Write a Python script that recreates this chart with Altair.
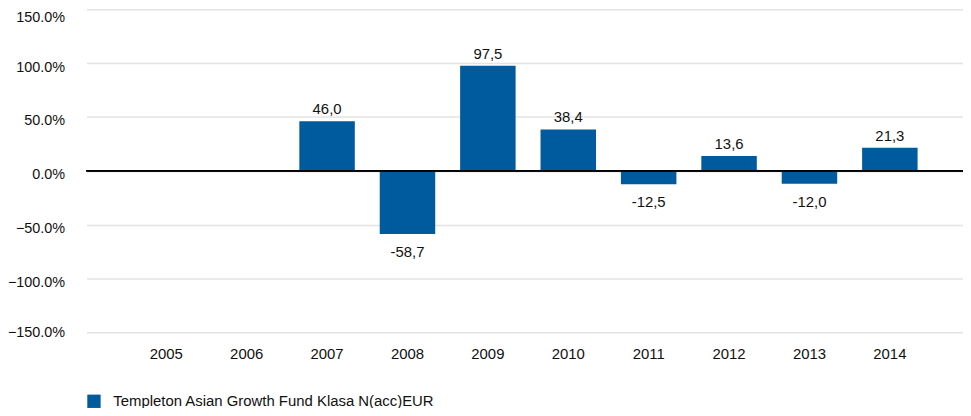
import altair as alt
import pandas as pd

years = ["2005", "2006", "2007", "2008", "2009", "2010", "2011", "2012", "2013", "2014"]
values = [None, None, 46.0, -58.7, 97.5, 38.4, -12.5, 13.6, -12.0, 21.3]
series_name = "Templeton Asian Growth Fund Klasa N(acc)EUR"
y_ticks = [-150, -100, -50, 0, 50, 100, 150]

BAR = "#005a9e"
FONT = "Liberation Sans"
FS = 15
TXT = "#111"

df = pd.DataFrame({"year": years, "value": values})
df["series"] = series_name
df["label"] = df["value"].map(lambda v: "" if pd.isna(v) else f"{v:.1f}".replace(".", ","))

x_scale = alt.Scale(domain=years, paddingInner=0.31, paddingOuter=0.606, align=0.534, round=False)
x_enc = alt.X(
    "year:N",
    sort=years,
    scale=x_scale,
    axis=alt.Axis(title=None, domain=False, ticks=False, labelPadding=14, labelFontSize=FS,
                  labelFont=FONT, labelColor=TXT, labelAngle=0, grid=False),
)
y_scale = alt.Scale(domain=[-150, 150], nice=False)

base = alt.Chart(df)

bars = base.mark_bar(color=BAR).encode(
    x=x_enc,
    y=alt.Y(
        "value:Q",
        scale=y_scale,
        axis=alt.Axis(title=None, values=y_ticks, domain=False, ticks=False, tickSize=0,
                      labelPadding=22, labelFontSize=14.5, labelFont=FONT, labelColor=TXT,
                      labelExpr="format(datum.value, '.1f') + '%'",
                      labelOffset=4, labelFlush=True, labelFlushOffset=3,
                      grid=True, gridColor="#e3e3e3", gridWidth=1.5),
    ),
    color=alt.Color("series:N", scale=alt.Scale(range=[BAR]),
                    legend=alt.Legend(title=None, orient="none", legendX=0, legendY=387,
                                      symbolType="square", symbolSize=180, symbolStrokeWidth=0,
                                      labelFontSize=FS, labelFont=FONT, labelColor=TXT,
                                      labelLimit=0, padding=0, symbolOffset=0, labelOffset=12)),
)

zero = base.mark_rule(color="#000", strokeWidth=1.2).encode(y=alt.datum(0))

pos_text = base.transform_filter("datum.value != null && datum.value >= 0").mark_text(
    baseline="alphabetic", dy=-7, fontSize=FS, font=FONT, color=TXT
).encode(x=alt.X("year:N", sort=years, scale=x_scale), y=alt.Y("value:Q", scale=y_scale), text="label:N")

neg_text = base.transform_filter("datum.value != null && datum.value < 0").mark_text(
    baseline="top", dy=11, fontSize=FS, font=FONT, color=TXT
).encode(x=alt.X("year:N", sort=years, scale=x_scale), y=alt.Y("value:Q", scale=y_scale), text="label:N")

chart = alt.layer(bars, zero, pos_text, neg_text).properties(
    width=882, height=325,
    autosize=alt.AutoSizeParams(type="none"),
    padding={"left": 79, "top": 0, "right": 0, "bottom": 75},
).configure_view(stroke=None)

chart.save("out.html", embed_options={"renderer": "svg", "actions": False})
